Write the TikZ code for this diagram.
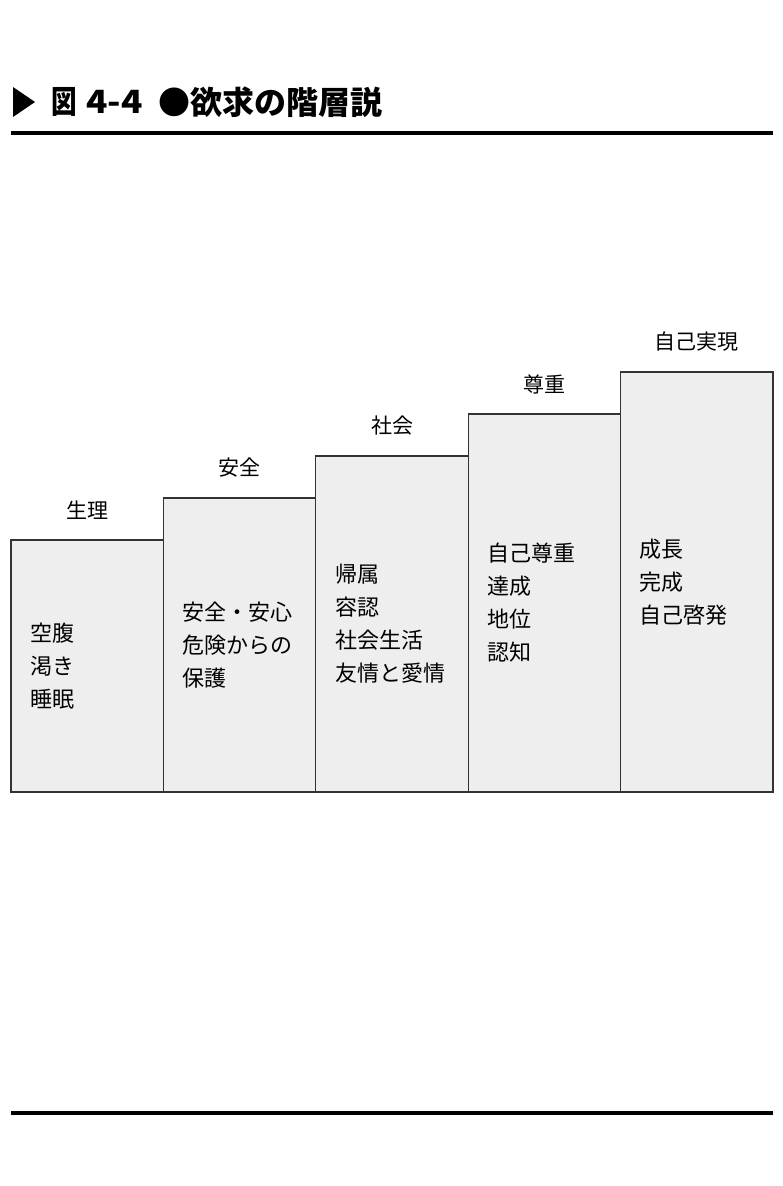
\documentclass[tikz,border=0pt]{standalone}
\usepackage{fontspec}
\setmainfont{Noto Sans CJK JP}
\usepackage{xcolor}
\usepackage{tikz}
\definecolor{barfill}{HTML}{EEEEEE}
\definecolor{barline}{HTML}{333333}
\tikzset{
  bar/.style={draw=barline,line width=1.2pt,fill=barfill,outer sep=0pt,inner sep=0pt,
    minimum width=152.4pt,anchor=south west},
  lbl/.style={font=\fontsize{21}{25}\selectfont,inner sep=0pt},
  txt/.style={font=\fontsize{22}{33}\selectfont,align=left,anchor=west,inner sep=0pt},
  head/.style={anchor=west,inner sep=0pt,font=\fontsize{32}{34}\selectfont\bfseries},
  rule/.style={line width=4pt}
}
\begin{document}
\begin{tikzpicture}[x=1pt,y=-1pt]
    \useasboundingbox (0,0) rectangle (783,1186);

    % title
    \coordinate (t1) at (13,87);
    \coordinate (t2) at (35,102);
    \coordinate (t3) at (13,117);
    \fill (t1)--(t2)--(t3)--cycle;
    \node[head] (fig) at (51,102) {\scalebox{0.8}[1]{図}};
    \node[head] (num) at (86,102) {\scalebox{1.1}[1]{4-4}};
    \node[head] (title) at (158,102) {●欲求の階層説};
    \coordinate (r1) at (11,133);
    \coordinate (r2) at (773,133);
    \draw[rule] (r1)--(r2);

    % bars
    \node[bar,minimum height=252pt] (b1) at (11,792) {};
    \node[bar,minimum height=294pt] (b2) at (163.4,792) {};
    \node[bar,minimum height=336pt] (b3) at (315.8,792) {};
    \node[bar,minimum height=378pt] (b4) at (468.2,792) {};
    \node[bar,minimum height=420pt] (b5) at (620.6,792) {};

    \node[lbl] (l1) at ([yshift=30pt]b1.north) {生理};
    \node[lbl] (l2) at ([yshift=30pt]b2.north) {安全};
    \node[lbl] (l3) at ([yshift=30pt]b3.north) {社会};
    \node[lbl] (l4) at ([yshift=30pt]b4.north) {尊重};
    \node[lbl] (l5) at ([yshift=30pt]b5.north) {自己実現};

    \node[txt] (x1) at ([xshift=19pt]b1.west) {空腹\\渇き\\睡眠};
    \node[txt] (x2) at ([xshift=19pt]b2.west) {安全・安心\\危険からの\\保護};
    \node[txt] (x3) at ([xshift=19pt]b3.west) {帰属\\容認\\社会生活\\友情と愛情};
    \node[txt] (x4) at ([xshift=19pt]b4.west) {自己尊重\\達成\\地位\\認知};
    \node[txt] (x5) at ([xshift=19pt]b5.west) {成長\\完成\\自己啓発};

    % bottom rule
    \coordinate (r3) at (11,1113);
    \coordinate (r4) at (773,1113);
    \draw[rule] (r3)--(r4);
\end{tikzpicture}
\end{document}
